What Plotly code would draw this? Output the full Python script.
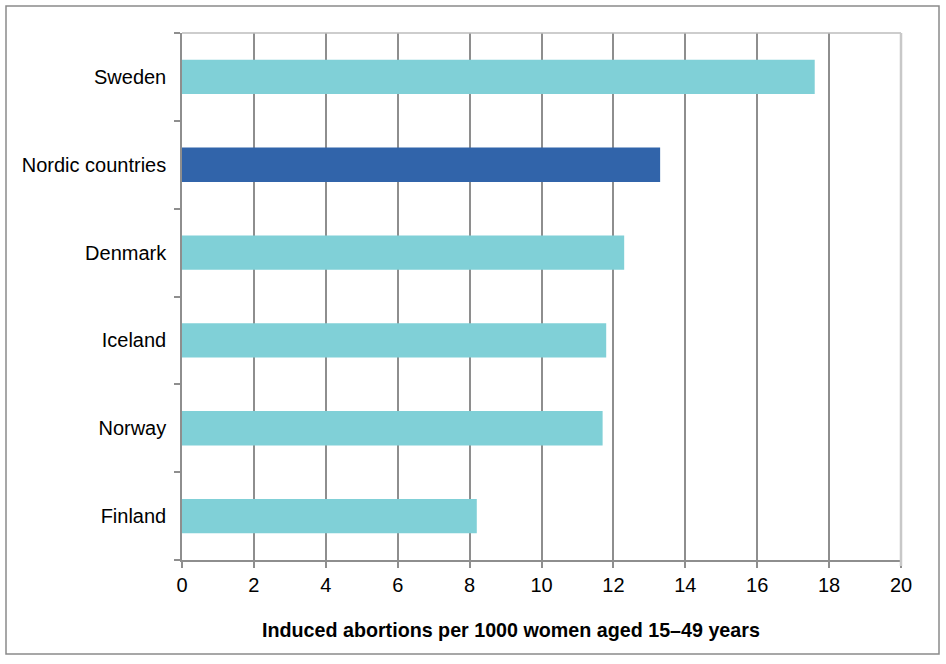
import plotly.graph_objects as go

countries = ["Sweden", "Nordic countries", "Denmark", "Iceland", "Norway", "Finland"]
rates = [17.6, 13.3, 12.3, 11.8, 11.7, 8.2]
bar_colors = ["#80D0D7", "#3164AA", "#80D0D7", "#80D0D7", "#80D0D7", "#80D0D7"]
x_ticks = [0, 2, 4, 6, 8, 10, 12, 14, 16, 18, 20]
x_title = "Induced abortions per 1000 women aged 15–49 years"

fig = go.Figure(go.Bar(
    x=rates, y=countries, orientation="h",
    marker=dict(color=bar_colors, line=dict(width=0)),
    width=0.39, hoverinfo="x+y",
))

W, H = 946, 664
L, R, T, B = 182, 45, 33, 104
pw, ph = W - L - R, H - T - B

def px(x):
    return (x - L) / pw

def py(y):
    return (H - B - y) / ph

fig.update_layout(
    width=W, height=H,
    margin=dict(l=L, r=R, t=T, b=B),
    paper_bgcolor="white", plot_bgcolor="white",
    font=dict(family="Liberation Sans, Arial, sans-serif", size=20, color="#000"),
    showlegend=False,
    xaxis=dict(
        range=[0, 20], tickvals=x_ticks, ticktext=[str(v) for v in x_ticks],
        showgrid=True, gridcolor="#8E8E8E", gridwidth=1.5,
        showline=True, linecolor="#8E8E8E", linewidth=1.5,
        ticks="outside", ticklen=6, tickcolor="#8E8E8E", tickwidth=1.5,
        zeroline=False,
    ),
    yaxis=dict(
        categoryorder="array", categoryarray=countries[::-1],
        showgrid=False, showline=True, linecolor="#8E8E8E", linewidth=1.5,
        ticks="outside", ticklen=6, tickcolor="#8E8E8E", tickwidth=1.5,
        tickson="boundaries", zeroline=False, ticklabelstandoff=10,
    ),
    annotations=[
        dict(text="<b>" + x_title + "</b>", xref="paper", yref="paper",
             x=px(510.5), y=py(630), xanchor="center", yanchor="middle",
             showarrow=False, font=dict(size=19.7)),
    ],
    shapes=[
        dict(type="line", xref="paper", yref="paper", x0=0, x1=1, y0=1, y1=1,
             line=dict(color="#BDBDBD", width=1.5)),
        dict(type="line", xref="paper", yref="paper", x0=1, x1=1, y0=1, y1=py(566),
             line=dict(color="#C8C8C8", width=2.5)),
        dict(type="rect", xref="paper", yref="paper",
             x0=px(6), x1=px(939), y0=py(654), y1=py(6),
             line=dict(color="#8A8A8A", width=1.5), fillcolor="rgba(0,0,0,0)"),
    ],
)

fig.write_html("out.html", config={"displayModeBar": False},
               post_script="document.body.style.margin='0px';")
